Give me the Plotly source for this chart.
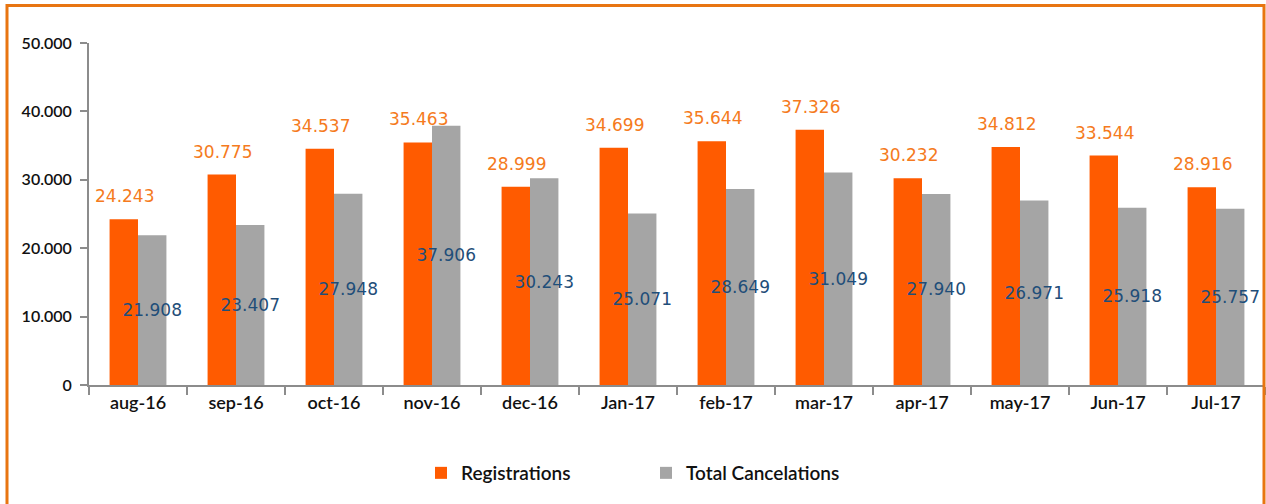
import plotly.graph_objects as go

months = ["aug-16", "sep-16", "oct-16", "nov-16", "dec-16", "Jan-17",
          "feb-17", "mar-17", "apr-17", "may-17", "Jun-17", "Jul-17"]
registrations = [24243, 30775, 34537, 35463, 28999, 34699,
                 35644, 37326, 30232, 34812, 33544, 28916]
cancelations = [21908, 23407, 27948, 37906, 30243, 25071,
                28649, 31049, 27940, 26971, 25918, 25757]
y_ticks = [0, 10000, 20000, 30000, 40000, 50000]

ORANGE = "#FF5B00"
GREY = "#A5A5A5"
LABEL_ORANGE = "#F57A20"
LABEL_BLUE = "#1F4E79"
AXIS = "#8C8C8C"
TXT = "#111111"

fig = go.Figure()
fig.add_trace(go.Bar(
    x=months, y=registrations, name="Registrations",
    marker=dict(color=ORANGE, line=dict(width=0)),
))
fig.add_trace(go.Bar(
    x=months, y=cancelations, name="Total Cancelations",
    marker=dict(color=GREY, line=dict(width=0)),
    texttemplate="%{y:,.0f}", textposition="inside",
    insidetextanchor="middle", textangle=0, cliponaxis=False,
    textfont=dict(family="DejaVu Sans", size=17, color=LABEL_BLUE),
))

annotations = []
for m, v in zip(months, registrations):
    annotations.append(dict(
        x=m, y=v, xref="x", yref="y", text=f"{v:,}".replace(",", "."),
        showarrow=False, xshift=-14, yshift=23, yanchor="middle",
        font=dict(family="DejaVu Sans", size=17, color=LABEL_ORANGE),
    ))

L, R, T, B = 89, 1, 43, 119
W, H = 1266, 504
pw, ph = W - L - R, H - T - B

def px_x(p):
    return (p - L) / pw

def px_y(p):
    return (H - B - p) / ph

fig.update_layout(
    width=W, height=H,
    margin=dict(l=L, r=R, t=T, b=B, pad=0, autoexpand=False),
    paper_bgcolor="white", plot_bgcolor="white",
    separators=",.",
    barmode="group", bargap=0.42, bargroupgap=0,
    uniformtext=dict(minsize=17, mode="show"),
    font=dict(family="Lato", size=15, color=TXT),
    showlegend=True,
    legend=dict(orientation="h", x=px_x(646), xanchor="center",
                y=px_y(473), yanchor="middle",
                font=dict(family="Lato", size=19, color=TXT, weight=600),
                entrywidth=180, itemsizing="constant", traceorder="normal"),
    xaxis=dict(type="category", tickson="boundaries", ticks="outside",
               ticklen=8, tickwidth=2, tickcolor=AXIS,
               showline=True, linecolor=AXIS, linewidth=2,
               showgrid=False, zeroline=False, automargin=False,
               tickfont=dict(family="Lato", size=18, color=TXT, weight=600)),
    yaxis=dict(range=[0, 50000], tickvals=y_ticks, tickformat=",.0f",
               ticks="outside", ticklen=7, tickwidth=2, tickcolor=AXIS,
               showline=True, linecolor=AXIS, linewidth=2,
               showgrid=False, zeroline=False, automargin=False,
               ticklabelstandoff=5,
               tickfont=dict(family="Lato", size=16, color=TXT, weight=600)),
    annotations=annotations,
    shapes=[dict(type="rect", xref="paper", yref="paper",
                 x0=px_x(7), x1=px_x(1264), y0=px_y(515), y1=px_y(5.5),
                 line=dict(color="#E87511", width=3), fillcolor="rgba(0,0,0,0)",
                 layer="above")],
)

fig.write_html("out.html",
               config={"displayModeBar": False},
               post_script="document.body.style.margin='0px';"
                           "document.body.style.overflow='hidden';")
